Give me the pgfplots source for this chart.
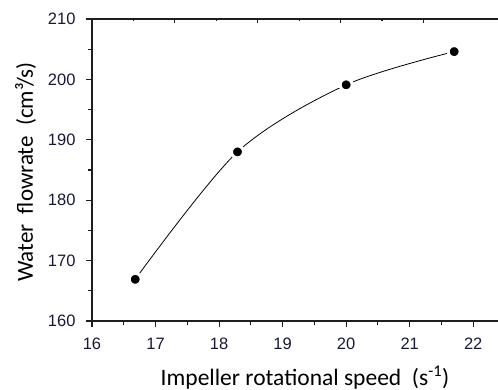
\documentclass[border=0pt]{standalone}
\usepackage{pgfplots}
\pgfplotsset{compat=1.18}
\usepackage{fontspec}
\setmainfont{Liberation Sans}
\newfontfamily\labelfont{Carlito}
\definecolor{ticktext}{RGB}{25,25,55}
\definecolor{axiscol}{RGB}{30,30,30}
\begin{document}
\begin{tikzpicture}
\path[use as bounding box] (-92bp,-69bp) rectangle (406bp,321bp);
% top axis with its own (unlabelled) tick scale
\begin{axis}[
  at={(0,0)}, anchor=south west,
  scale only axis, width=406bp, height=302bp,
  xmin=0, xmax=4.90, ymin=0, ymax=1,
  axis x line*=top, axis y line=none,
  xtick={0,1,2,3,4}, xticklabels={},
  minor x tick num=1,
  tick align=inside,
  major tick length=4bp, minor tick length=2.2bp,
  axis line style={line width=1.2bp, axiscol},
  tick style={line width=1.1bp, axiscol},
]
\addplot[draw=none] coordinates {(0,0)};
\end{axis}
\begin{axis}[
  at={(0,0)}, anchor=south west,
  scale only axis, width=406bp, height=302bp,
  xmin=16, xmax=22.39, ymin=160, ymax=210,
  axis x line*=bottom, axis y line*=left,
  xtick={16,...,22}, ytick={160,170,...,210},
  minor x tick num=1, minor y tick num=1,
  tick align=outside,
  major tick length=6bp, minor tick length=4bp,
  axis line style={line width=1.2bp, axiscol},
  tick style={line width=1.1bp, axiscol},
  /pgf/number format/assume math mode=true,
  tick label style={font=\fontsize{16.5bp}{18bp}\selectfont, text=ticktext, inner sep=0pt},
  xticklabel style={anchor=north, yshift=-11bp},
  yticklabel style={anchor=east, xshift=-10.3bp},
  clip=false,
]
\addplot[black, line width=0.8bp, smooth, mark=*, mark size=6bp,
  mark options={fill=black, draw=white, line width=3bp}]
  coordinates {(16.68,166.9) (18.29,188.0) (20.0,199.1) (21.70,204.6)};
\end{axis}
\node[font=\labelfont\fontsize{23.5bp}{26bp}\selectfont, anchor=base] at (213bp,-64bp)
  {Impeller rotational speed\ \ (s\textsuperscript{-1})};
\node[font=\labelfont\fontsize{23bp}{26bp}\selectfont, anchor=base, rotate=90] at (-59bp,149bp)
  {Water\ \ flowrate\ \ (cm³/s)};
\end{tikzpicture}
\end{document}
